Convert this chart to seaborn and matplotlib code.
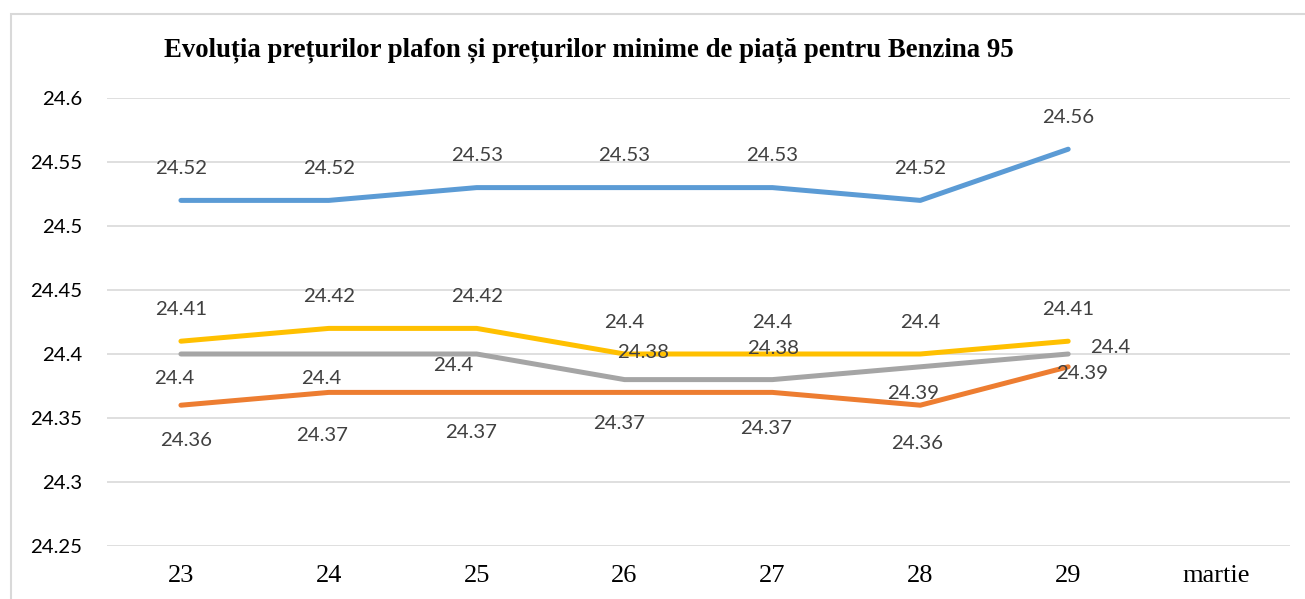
import matplotlib
matplotlib.use("Agg")
import matplotlib.pyplot as plt
import seaborn as sns
import pandas as pd
from matplotlib.patches import Rectangle

# ---- data ----
categories = ["23", "24", "25", "26", "27", "28", "29", "martie"]
days = ["23", "24", "25", "26", "27", "28", "29"]
series_names = ["s1", "s2", "s3", "s4"]
blue_vals = [24.52, 24.52, 24.53, 24.53, 24.53, 24.52, 24.56]
orange_vals = [24.36, 24.37, 24.37, 24.37, 24.37, 24.36, 24.39]
gray_vals = [24.40, 24.40, 24.40, 24.38, 24.38, 24.39, 24.40]
yellow_vals = [24.41, 24.42, 24.42, 24.40, 24.40, 24.40, 24.41]
y_ticks = [24.25, 24.3, 24.35, 24.4, 24.45, 24.5, 24.55, 24.6]
title = "Evoluția prețurilor plafon și prețurilor minime de piață pentru Benzina 95"

# ---- styles ----
colors = {"s1": "#5B9BD5", "s2": "#ED7D31", "s3": "#A5A5A5", "s4": "#FFC000"}
# label offsets in pixels (dx, dy; dy positive = down)
label_offsets = {
    "s1": [(0, -32)] * 7,
    "s2": [(5, 35), (-7, 43), (-6, 40), (-6, 31), (-6, 36), (-3, 38), (14, 7)],
    "s3": [(-7, 24), (-8, 24), (-23, 11), (19, -27), (1, -31), (-7, 27), (42, -7)],
    "s4": [(0, -32)] * 7,
}
label_font = ["Lato", "DejaVu Sans"]
label_size = 14.7

values = {"s1": blue_vals, "s2": orange_vals, "s3": gray_vals, "s4": yellow_vals}
rows = []
for name in series_names:
    for i, d in enumerate(days):
        rows.append({"series": name, "x": categories.index(d), "y": values[name][i]})
df = pd.DataFrame(rows)

sns.set_theme(style="white")
plt.rcParams["font.family"] = ["DejaVu Sans"]

fig = plt.figure(figsize=(13.05, 5.99), dpi=100)
ax = fig.add_axes([107 / 1305, 1 - 546 / 599, (1290 - 107) / 1305, (546 - 98) / 599])

sns.lineplot(data=df, x="x", y="y", hue="series", palette=colors,
             hue_order=series_names, linewidth=3.6, legend=False, ax=ax,
             solid_capstyle="round", sort=False)

ax.set_xlim(-0.5, len(categories) - 0.5)
ax.set_ylim(y_ticks[0], y_ticks[-1])
ax.set_yticks(y_ticks)
ax.set_yticklabels([f"{t:g}" for t in y_ticks], fontsize=label_size, color="black",
                   family=label_font)
ax.set_xticks(range(len(categories)))
ax.set_xticklabels(categories, fontsize=19, family="Liberation Serif", color="black")
ax.tick_params(axis="x", length=0, pad=14)
ax.tick_params(axis="y", length=0, pad=18)
ax.set_xlabel("")
ax.set_ylabel("")
for s in ax.spines.values():
    s.set_visible(False)
ax.yaxis.grid(True, color="#D9D9D9", linewidth=1.2)
ax.xaxis.grid(False)
ax.set_axisbelow(True)

for name in series_names:
    for i, d in enumerate(days):
        dx, dy = label_offsets[name][i]
        ax.annotate(f"{values[name][i]:g}", (categories.index(d), values[name][i]),
                    xytext=(dx, -dy), textcoords="offset pixels",
                    ha="center", va="center", fontsize=label_size, color="#404040",
                    family=label_font)

fig.text(589 / 1305, 1 - 50 / 599, title, ha="center", va="center",
         fontsize=19.3, fontweight="bold", family="Liberation Serif", color="black")

fig.patches.append(Rectangle((11 / 1305, -0.1), 1.2, 1 - 14 / 599 + 0.1,
                             transform=fig.transFigure, fill=False,
                             edgecolor="#D9D9D9", linewidth=1.5))

fig.savefig("out.png", dpi=100)
